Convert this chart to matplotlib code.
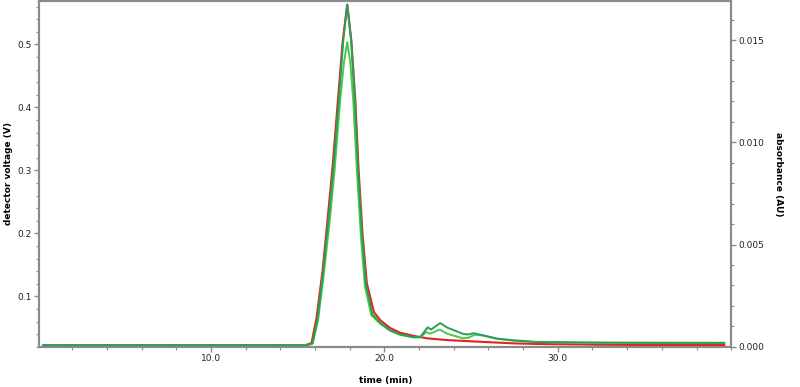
import matplotlib.pyplot as plt
from matplotlib.ticker import MultipleLocator, FormatStrFormatter

# detector voltage trace (red), left axis
red_t = [0.34, 15.46, 15.80, 16.09, 16.44, 16.72, 17.01, 17.32, 17.60, 17.86,
         18.10, 18.33, 18.51, 18.74, 18.99, 19.40, 19.77, 20.34, 20.92, 21.67, 22.47,
         23.62, 25.52, 27.41, 28.97, 32.41, 35.86, 39.60]
red_v = [0.0227, 0.0227, 0.0259, 0.0654, 0.141, 0.220, 0.304, 0.410, 0.505, 0.563,
         0.505, 0.410, 0.304, 0.200, 0.121, 0.075, 0.062, 0.0496, 0.0422, 0.0374, 0.0333,
         0.0306, 0.0279, 0.0254, 0.0243, 0.0232, 0.0227, 0.0227]

# absorbance traces (greens), right axis
dg_t = [0.34, 15.52, 15.86, 16.15, 16.49, 16.78, 17.07, 17.37, 17.63, 17.86,
        18.09, 18.30, 18.48, 18.71, 18.94, 19.31, 19.77, 20.34, 20.92, 21.67, 22.07,
        22.50, 22.70, 23.22, 23.62, 24.54, 24.83, 25.14, 25.69, 26.49, 27.41, 28.79,
        32.41, 35.86, 39.60]
dg_a = [0.00007, 0.00007, 0.00017, 0.00139, 0.00383, 0.00627, 0.00880, 0.01202,
        0.01495, 0.01673, 0.01495, 0.01202, 0.00876, 0.00554, 0.00305, 0.00159, 0.00116,
        0.00080, 0.00060, 0.00048, 0.00048, 0.00095, 0.00084, 0.00116, 0.00094, 0.00063,
        0.00060, 0.00066, 0.00056, 0.00040, 0.00032, 0.00023, 0.00020, 0.00019, 0.00019]

lg_t = [0.34, 15.52, 15.86, 16.18, 16.52, 16.84, 17.13, 17.45, 17.67, 17.86,
        18.04, 18.21, 18.42, 18.65, 18.88, 19.25, 19.77, 20.34, 20.92, 21.67, 22.07,
        22.41, 22.64, 23.19, 23.62, 24.54, 24.83, 25.23, 25.69, 26.49, 27.41, 28.79,
        32.41, 39.60]
lg_a = [0.00007, 0.00007, 0.00015, 0.00129, 0.00363, 0.00607, 0.00861, 0.01202,
        0.01388, 0.01490, 0.01388, 0.01202, 0.00861, 0.00539, 0.00295, 0.00154, 0.00112,
        0.00078, 0.00058, 0.00046, 0.00045, 0.00072, 0.00064, 0.00084, 0.00064, 0.00041,
        0.00044, 0.00059, 0.00055, 0.00039, 0.00030, 0.00023, 0.00020, 0.00019]

x_ticks = [10, 20, 30]
left_ticks = [0.1, 0.2, 0.3, 0.4, 0.5]
right_ticks = [0.000, 0.005, 0.010, 0.015]

spine_col = '#8a8a8a'
fs = 6.5

fig = plt.figure(figsize=(8, 3.87), dpi=100)
ax = fig.add_axes([0.049, 0.104, 0.865, 0.893])
ax2 = ax.twinx()

ax.plot(red_t, red_v, color='#e3231c', lw=1.5)
ax2.plot(lg_t, lg_a, color='#47c94a', lw=1.4)
ax2.plot(dg_t, dg_a, color='#2a9d58', lw=1.4)

ax.set_xlim(0.1, 40.0)
ax.set_ylim(0.02, 0.5685)
ax2.set_ylim(0.0, 0.0169)

ax.set_xticks(x_ticks)
ax.xaxis.set_minor_locator(MultipleLocator(2))
ax.xaxis.set_major_formatter(FormatStrFormatter('%.1f'))
ax.set_yticks(left_ticks)
ax.yaxis.set_minor_locator(MultipleLocator(0.02))
ax.yaxis.set_major_formatter(FormatStrFormatter('%.1f'))
ax2.set_yticks(right_ticks)
ax2.yaxis.set_minor_locator(MultipleLocator(0.001))
ax2.yaxis.set_major_formatter(FormatStrFormatter('%.3f'))

for a in (ax, ax2):
    for s in a.spines.values():
        s.set_color(spine_col)
        s.set_linewidth(1.5)
    a.tick_params(which='major', length=3.5, width=1, color=spine_col,
                  labelsize=fs, labelcolor='#222222', pad=2)
    a.tick_params(which='minor', length=2, width=0.8, color=spine_col)

ax.set_xlabel('time (min)', fontsize=fs, fontweight='bold')
ax.xaxis.set_label_coords(0.5, -0.085)
ax.set_ylabel('detector voltage (V)', fontsize=fs, fontweight='bold', va='center')
ax.yaxis.set_label_coords(-0.045, 0.5)
ax2.set_ylabel('absorbance (AU)', fontsize=fs, fontweight='bold', rotation=270,
               va='center')
ax2.yaxis.set_label_coords(1.068, 0.5)

fig.savefig('out.png', dpi=100)
